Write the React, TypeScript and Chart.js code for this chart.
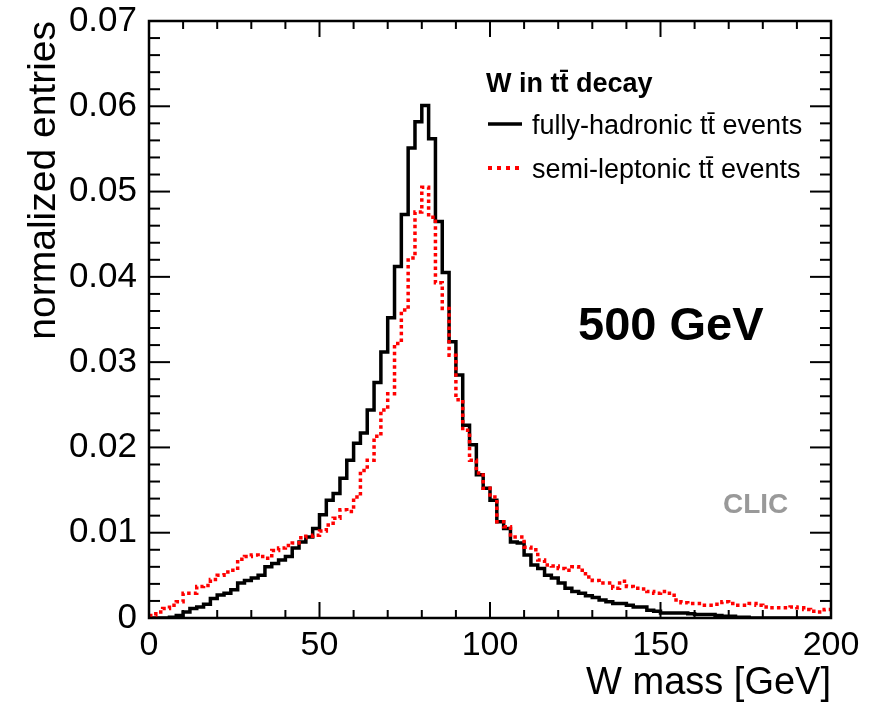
import React, { useEffect, useRef } from 'react';
import { Chart, registerables } from 'chart.js';

Chart.register(...registerables);

// ---- data (normalized entries per 2 GeV bin, 0..200 GeV) ----
const BIN_WIDTH = 2;
const X_MIN = 0;
const X_MAX = 200;
const Y_MIN = 0;
const Y_MAX = 0.07;

const fullyHadronic = [
  0, 0, 0, 0.0001, 0.0003, 0.0007, 0.0011, 0.0013, 0.0016, 0.0023,
  0.0027, 0.0029, 0.0033, 0.0041, 0.0044, 0.0047, 0.005, 0.006, 0.0064, 0.0068,
  0.0072, 0.0082, 0.0089, 0.0095, 0.0105, 0.0121, 0.0138, 0.0146, 0.0164, 0.0185,
  0.0205, 0.0217, 0.0244, 0.0276, 0.0312, 0.0352, 0.0412, 0.0473, 0.0551, 0.0582,
  0.0601, 0.0562, 0.0465, 0.0405, 0.0324, 0.0285, 0.0226, 0.0203, 0.0168, 0.0152,
  0.0138, 0.0113, 0.0105, 0.0089, 0.0088, 0.0074, 0.0062, 0.0058, 0.005, 0.0047,
  0.0041, 0.0035, 0.0031, 0.0029, 0.0026, 0.0024, 0.0021, 0.0019, 0.0017, 0.0017,
  0.0015, 0.0013, 0.0013, 0.0009, 0.0008, 0.0006, 0.0006, 0.0006, 0.0006, 0.0005,
  0.0004, 0.0004, 0.0004, 0.0003, 0.0002, 0.0002, 0.0001, 0.0001, 0, 0,
  0, 0, 0, 0, 0, 0, 0, 0, 0, 0,
];

const semiLeptonic = [
  0.0003, 0.0007, 0.0011, 0.0015, 0.0019, 0.0029, 0.0029, 0.0037, 0.0038, 0.0045,
  0.005, 0.0054, 0.0056, 0.0069, 0.0072, 0.0074, 0.0072, 0.007, 0.0079, 0.0082,
  0.0085, 0.0088, 0.0094, 0.0096, 0.0097, 0.0102, 0.0109, 0.0117, 0.0127, 0.0125,
  0.0142, 0.0173, 0.0185, 0.0213, 0.0244, 0.0263, 0.0322, 0.0361, 0.0422, 0.0476,
  0.0505, 0.047, 0.0393, 0.0363, 0.0308, 0.0256, 0.022, 0.0185, 0.017, 0.0152,
  0.0142, 0.0113, 0.0107, 0.0095, 0.0095, 0.0083, 0.008, 0.0068, 0.0062, 0.0061,
  0.0058, 0.0056, 0.006, 0.0056, 0.0048, 0.0044, 0.0041, 0.0041, 0.0035, 0.0043,
  0.0037, 0.0035, 0.0034, 0.0031, 0.0029, 0.0031, 0.0029, 0.0021, 0.0018, 0.0017,
  0.0017, 0.0015, 0.0015, 0.0016, 0.0019, 0.0017, 0.0015, 0.0015, 0.0017, 0.0015,
  0.0013, 0.0012, 0.0012, 0.0012, 0.0013, 0.0012, 0.001, 0.0008, 0.0007, 0.001,
];

const X_MAJOR = 50;
const X_MINOR = 10;
const Y_MAJOR = 0.01;
const Y_MINOR = 0.002;

const xTitle = 'W mass [GeV]';
const yTitle = 'normalized entries';
const legendTitle = 'W in tt\u0304 decay';
const seriesLabels = ['fully-hadronic tt\u0304 events', 'semi-leptonic tt\u0304 events'];
const energyLabel = '500 GeV';
const experimentLabel = 'CLIC';

const FONT = '"Liberation Sans", Arial, Helvetica, sans-serif';

function toSteps(values: number[]) {
  const pts = values.map((v, i) => ({ x: X_MIN + i * BIN_WIDTH, y: v }));
  pts.push({ x: X_MIN + values.length * BIN_WIDTH, y: values[values.length - 1] });
  return pts;
}

const frameTicks = {
  id: 'frameTicks',
  afterDatasetsDraw(chart: any) {
    const { ctx, chartArea: a, scales } = chart;
    const xs = scales.x;
    const ys = scales.y;
    ctx.save();
    ctx.strokeStyle = '#000';
    ctx.lineWidth = 2;
    ctx.setLineDash([]);
    const seg = (x1: number, y1: number, x2: number, y2: number) => {
      ctx.beginPath();
      ctx.moveTo(x1, y1);
      ctx.lineTo(x2, y2);
      ctx.stroke();
    };
    const nx = Math.round((X_MAX - X_MIN) / X_MINOR);
    const xPer = Math.round(X_MAJOR / X_MINOR);
    for (let i = 0; i <= nx; i++) {
      const px = xs.getPixelForValue(X_MIN + i * X_MINOR);
      const len = i % xPer === 0 ? 16 : 8;
      seg(px, a.bottom, px, a.bottom - len);
      seg(px, a.top, px, a.top + len);
    }
    const ny = Math.round((Y_MAX - Y_MIN) / Y_MINOR);
    const yPer = Math.round(Y_MAJOR / Y_MINOR);
    for (let i = 0; i <= ny; i++) {
      const py = ys.getPixelForValue(Y_MIN + i * Y_MINOR);
      const len = i % yPer === 0 ? 21 : 11;
      seg(a.left, py, a.left + len, py);
      seg(a.right, py, a.right - len, py);
    }
    ctx.lineWidth = 2.5;
    ctx.strokeRect(a.left, a.top, a.right - a.left, a.bottom - a.top);
    ctx.restore();
  },
  afterDraw(chart: any) {
    const { ctx } = chart;
    ctx.save();
    ctx.textBaseline = 'alphabetic';
    ctx.textAlign = 'left';
    ctx.fillStyle = '#000';
    // legend
    ctx.font = `bold 27px ${FONT}`;
    ctx.fillText(legendTitle, 486, 92);
    ctx.font = `27px ${FONT}`;
    ctx.fillText(seriesLabels[0], 532, 134);
    ctx.fillText(seriesLabels[1], 532, 178);
    ctx.lineWidth = 3.5;
    ctx.strokeStyle = '#000';
    ctx.beginPath();
    ctx.moveTo(488, 124);
    ctx.lineTo(522, 124);
    ctx.stroke();
    ctx.strokeStyle = '#ff0000';
    ctx.setLineDash([4, 5]);
    ctx.lineWidth = 4;
    ctx.beginPath();
    ctx.moveTo(488, 168);
    ctx.lineTo(524, 168);
    ctx.stroke();
    ctx.setLineDash([]);
    // annotations
    ctx.font = `bold 47px ${FONT}`;
    ctx.fillStyle = '#000';
    ctx.fillText(energyLabel, 578, 340);
    ctx.font = `bold 28px ${FONT}`;
    ctx.fillStyle = '#999999';
    ctx.fillText(experimentLabel, 723, 513);
    ctx.restore();
  },
};

export default function App() {
  const ref = useRef<HTMLCanvasElement | null>(null);
  useEffect(() => {
    if (!ref.current) return;
    Chart.defaults.font.family = FONT;
    Chart.defaults.color = '#000';
    const chart = new Chart(ref.current, {
      type: 'line',
      data: {
        datasets: [
          {
            label: seriesLabels[1],
            data: toSteps(semiLeptonic),
            stepped: 'before',
            borderColor: '#ff0000',
            borderWidth: 3.5,
            borderDash: [3.5, 3.2],
            borderCapStyle: 'butt',
            pointRadius: 0,
            fill: false,
            order: 0,
          },
          {
            label: seriesLabels[0],
            data: toSteps(fullyHadronic),
            stepped: 'before',
            borderColor: '#000000',
            borderWidth: 3.5,
            pointRadius: 0,
            fill: false,
            order: 1,
          },
        ],
      },
      options: {
        animation: false,
        responsive: false,
        devicePixelRatio: 1,
        layout: { padding: { top: 21, right: 45, left: 0, bottom: 0 } },
        plugins: {
          legend: { display: false },
          tooltip: { enabled: false },
        },
        scales: {
          x: {
            type: 'linear',
            min: X_MIN,
            max: X_MAX,
            grid: { display: false, drawTicks: false },
            border: { display: false },
            ticks: {
              stepSize: X_MAJOR,
              padding: 7,
              maxRotation: 0,
              font: { size: 34 },
              color: '#000',
            },
            title: {
              display: true,
              text: xTitle,
              align: 'end',
              font: { size: 38 },
              color: '#000',
              padding: { top: 0, bottom: 1 },
            },
            afterFit: (s: any) => {
              s.height = 89;
              s.paddingLeft = 0;
              s.paddingRight = 0;
            },
          },
          y: {
            type: 'linear',
            min: Y_MIN,
            max: Y_MAX,
            grid: { display: false, drawTicks: false },
            border: { display: false },
            ticks: {
              stepSize: Y_MAJOR,
              padding: 12,
              font: { size: 35 },
              color: '#000',
              callback: (v: any) => (Math.abs(v) < 1e-9 ? '0' : Number(v).toFixed(2)),
            },
            title: {
              display: true,
              text: yTitle,
              align: 'end',
              font: { size: 39 },
              color: '#000',
              padding: { top: 21, bottom: 0 },
            },
            afterFit: (s: any) => {
              s.width = 149;
              s.paddingTop = 0;
              s.paddingBottom = 0;
            },
          },
        },
      } as any,
      plugins: [frameTicks],
    });
    return () => chart.destroy();
  }, []);
  return (
    <div style={{ position: 'fixed', left: 0, top: 0, width: 876, height: 707, background: '#fff' }}>
      <canvas ref={ref} width={876} height={707} style={{ display: 'block', width: 876, height: 707 }} />
    </div>
  );
}
